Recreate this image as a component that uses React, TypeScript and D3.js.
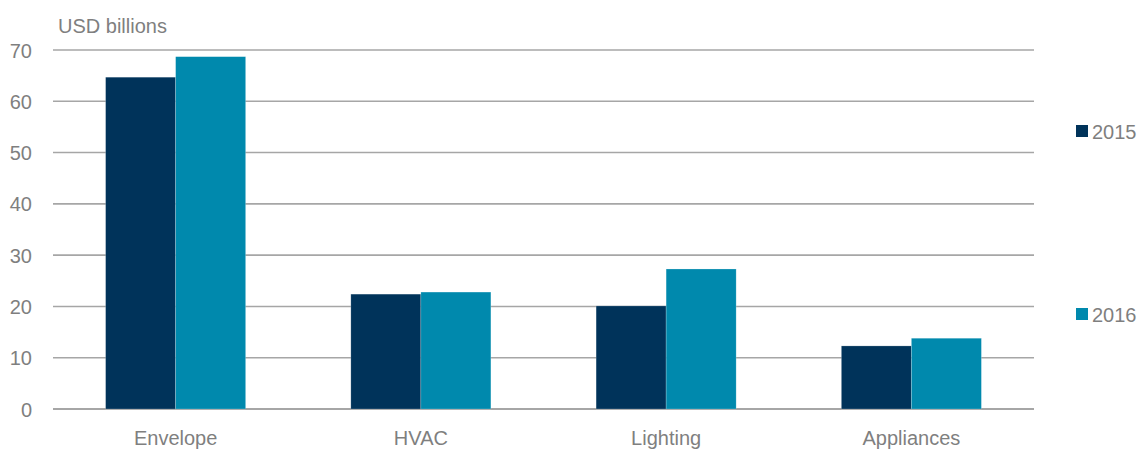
import React from "react";
import * as d3 from "d3";

const categories = ["Envelope", "HVAC", "Lighting", "Appliances"];
const seriesNames = ["2015", "2016"];
const values2015 = [64.7, 22.4, 20.1, 12.3];
const values2016 = [68.7, 22.8, 27.3, 13.8];
const yTicks = [0, 10, 20, 30, 40, 50, 60, 70];
const colors = ["#00335A", "#0089AD"];
const unitLabel = "USD billions";

const W = 1138;
const H = 449;
const plotLeft = 53;
const plotRight = 1034;
const plotTop = 50;
const plotBottom = 409;
const textColor = "#7F7F7F";
const gridColor = "#A6A6A6";
const font = "'Liberation Sans', Arial, sans-serif";

export default function App() {
  const x = d3
    .scaleBand<string>()
    .domain(categories)
    .range([plotLeft, plotRight])
    .paddingInner(0.429)
    .paddingOuter(0.2145);
  const xs = d3.scaleBand<string>().domain(seriesNames).range([0, x.bandwidth()]);
  const y = d3.scaleLinear().domain([0, 70]).range([plotBottom, plotTop]);
  const series = [values2015, values2016];
  const legendY = [131, 314];

  return (
    <svg
      width={W}
      height={H}
      style={{ position: "absolute", left: 0, top: 0, background: "#fff" }}
      fontFamily={font}
    >
      {yTicks.map((t) => (
        <g key={t}>
          <line
            x1={plotLeft}
            x2={plotRight}
            y1={y(t)}
            y2={y(t)}
            stroke={gridColor}
            strokeWidth={t === 0 ? 2 : 1.6}
          />
          <text
            x={32}
            y={y(t) + 7.5}
            textAnchor="end"
            fontSize={20}
            fill={textColor}
          >
            {t}
          </text>
        </g>
      ))}
      <text x={58} y={33} fontSize={20} fill={textColor}>
        {unitLabel}
      </text>
      {categories.map((c, i) => (
        <g key={c}>
          {seriesNames.map((s, j) => (
            <rect
              key={s}
              x={(x(c) as number) + (xs(s) as number)}
              y={y(series[j][i])}
              width={xs.bandwidth()}
              height={y(0) - y(series[j][i])}
              fill={colors[j]}
              stroke="#ffffff"
              strokeOpacity={0.35}
              strokeWidth={0.6}
            />
          ))}
          <text
            x={(x(c) as number) + x.bandwidth() / 2}
            y={445}
            textAnchor="middle"
            fontSize={20}
            fill={textColor}
          >
            {c}
          </text>
        </g>
      ))}
      {seriesNames.map((s, j) => (
        <g key={s}>
          <rect x={1076} y={legendY[j] - 6} width={12} height={12} fill={colors[j]} />
          <text x={1092} y={legendY[j] + 7.5} fontSize={20} fill={textColor}>
            {s}
          </text>
        </g>
      ))}
    </svg>
  );
}
